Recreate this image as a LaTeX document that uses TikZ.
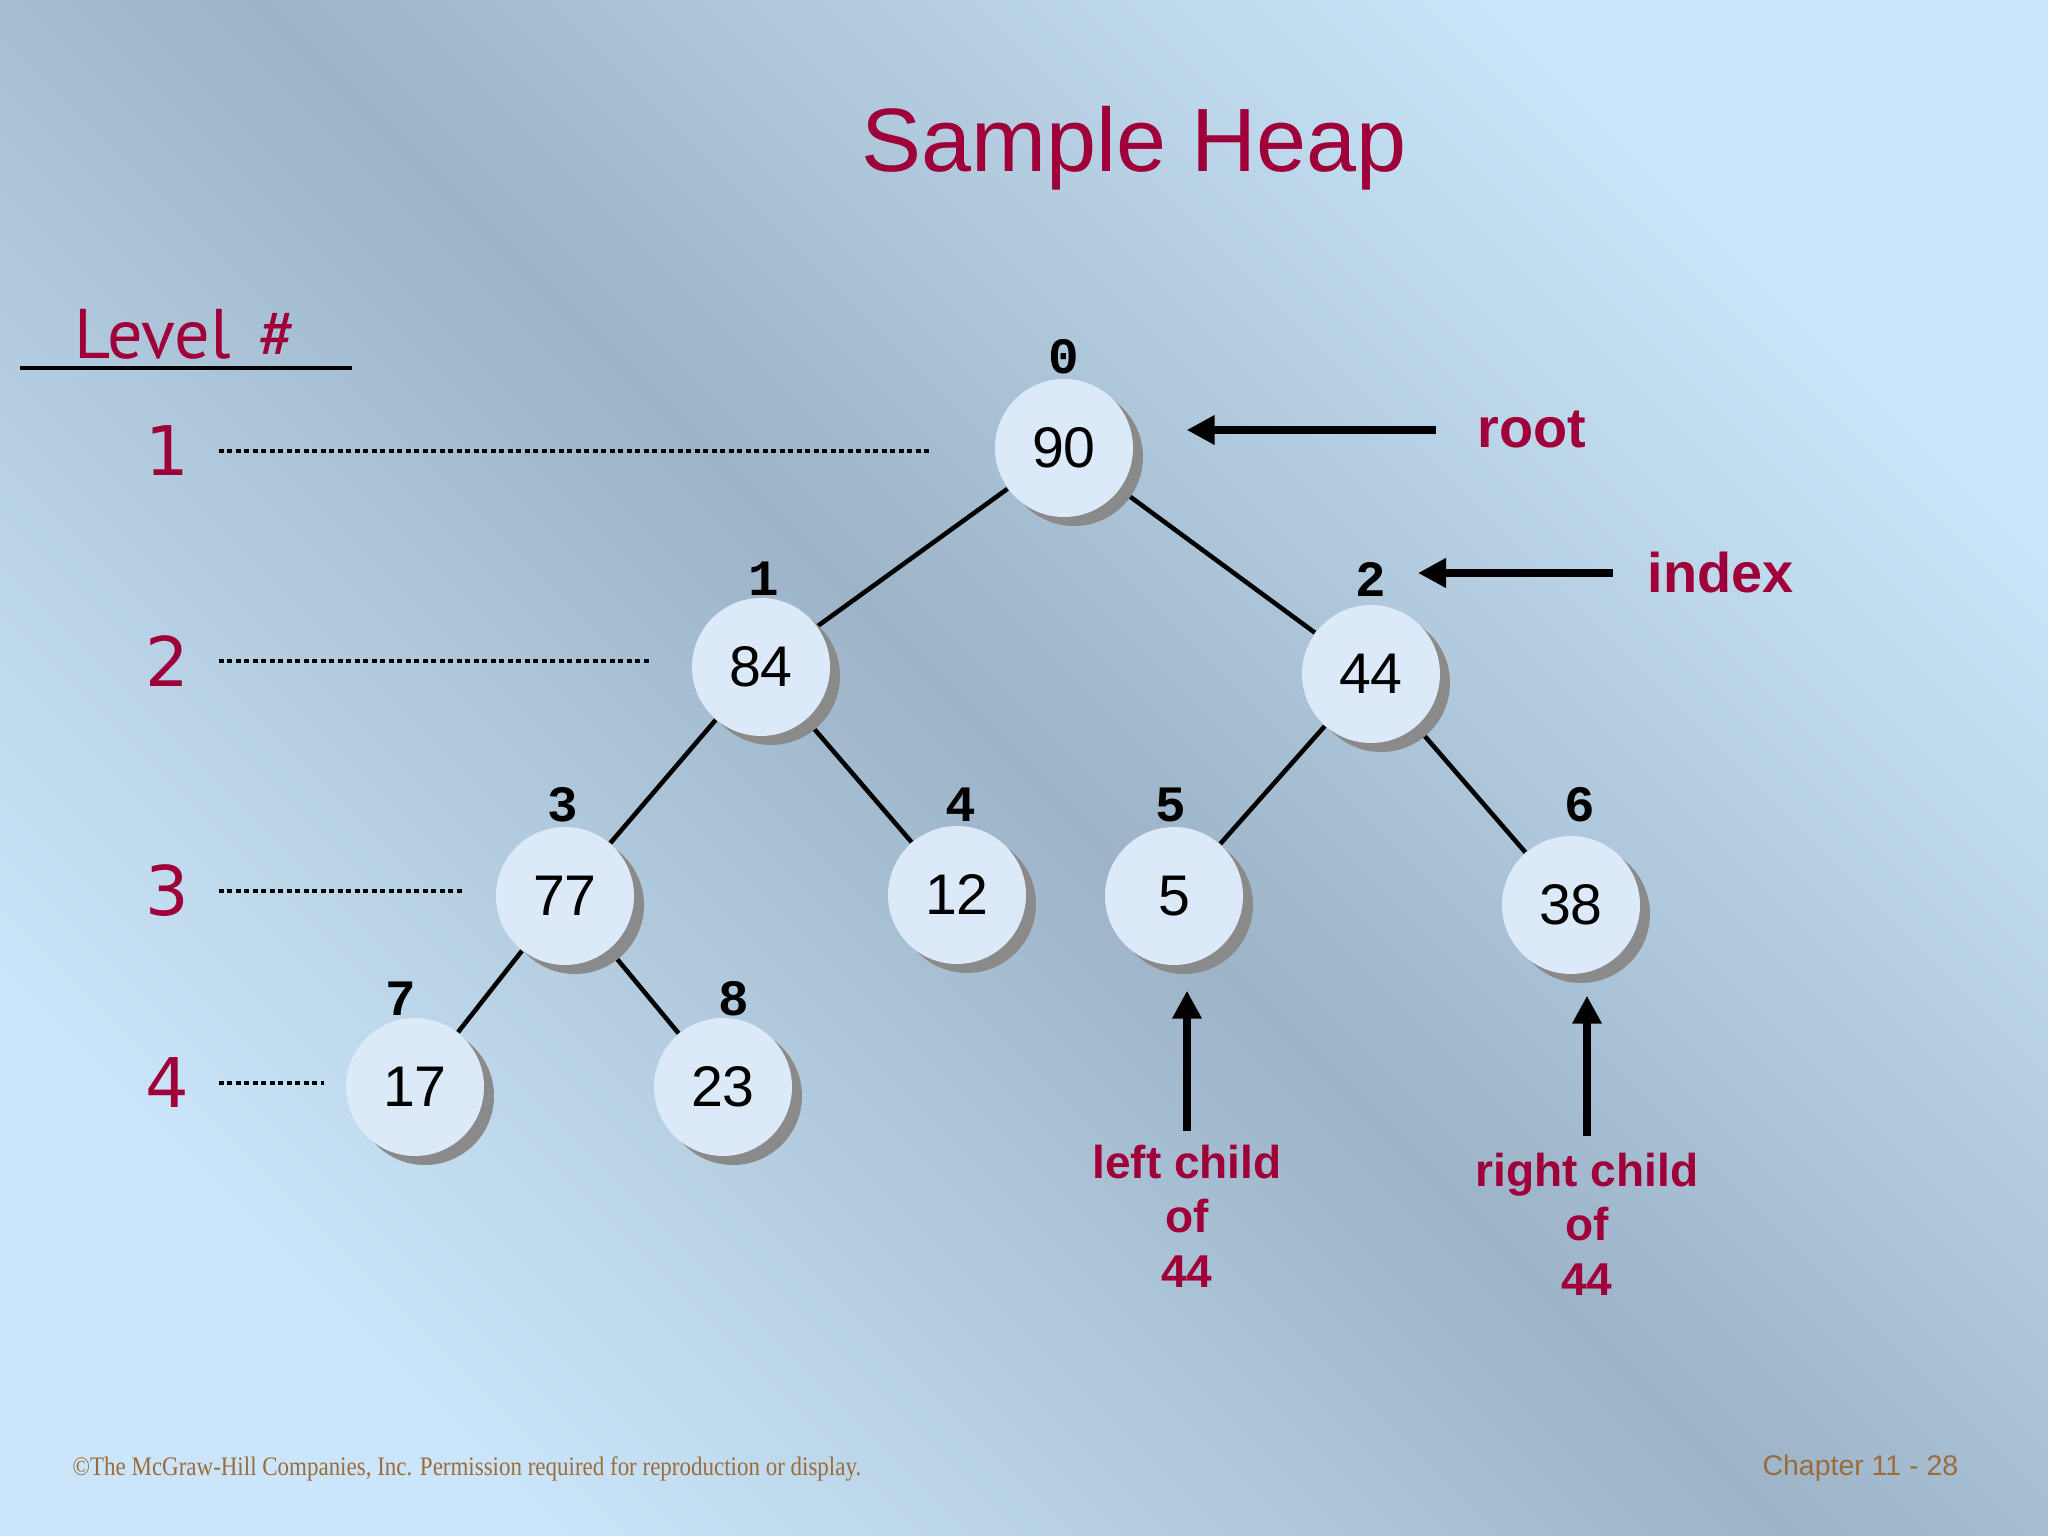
\documentclass[tikz,border=0pt]{standalone}
\usepackage{fontspec}
\setmainfont{Liberation Sans}
\newfontfamily\idxfont{Liberation Mono}
\newfontfamily\lvlfont{PT Sans}
\newfontfamily\digfont{DejaVu Sans}
\newfontfamily\footfont{Liberation Serif}[FakeStretch=0.86]
\usetikzlibrary{arrows.meta, positioning, calc, shadows, backgrounds}
\definecolor{hcrimson}{HTML}{A0003A}
\definecolor{hnode}{HTML}{DCE9F8}
\definecolor{hshadow}{HTML}{8A8A8A}
\definecolor{hbglight}{HTML}{CBE6FA}
\definecolor{hbgdark}{HTML}{9DB4C8}
\definecolor{hbrown}{HTML}{9C6B3A}
\tikzset{
  heapnode/.style={circle, fill=hnode, minimum size=1.38cm, inner sep=0pt, font=\fontsize{16.3}{18}\selectfont,
                   drop shadow={shadow xshift=0.1cm, shadow yshift=-0.09cm, fill=hshadow, opacity=1}},
  idx/.style={font=\idxfont\bfseries\fontsize{14.5}{16}\selectfont, inner sep=0pt},
  edge/.style={draw=black, line width=1.3pt},
  lvl/.style={font=\digfont\fontsize{19.5}{22}\selectfont, text=hcrimson, inner sep=0pt},
  dotline/.style={line width=1.3pt, dash pattern=on 0.05cm off 0.035cm},
  pointer/.style={-{Triangle[length=0.28cm, width=0.28cm]}, line width=2.3pt},
  note/.style={font=\bfseries\fontsize{15.9}{19}\selectfont, text=hcrimson, inner sep=0pt},
  childnote/.style={note, font=\bfseries\fontsize{13.1}{15.6}\selectfont, align=center, anchor=north},
}
\begin{document}
\begin{tikzpicture}
  \begin{scope}[on background layer]
    \shade[top color=hbglight, bottom color=hbglight, middle color=hbgdark, shading angle=-45] (0,0) rectangle (20.48,-15.36);
  \end{scope}
  \useasboundingbox (0,0) rectangle (20.48,-15.36);

  \node[font=\fontsize{25.6}{30}\selectfont, text=hcrimson, anchor=base] (title) at (11.34,-1.72) {Sample Heap};

  % level column
  \node[font=\lvlfont\fontsize{20}{24}\selectfont, text=hcrimson, anchor=base] (lvlhead) at (1.86,-3.59) {Level\hspace{0.28cm}\#};
  \draw[line width=1.15pt] (0.20,-3.68) -- (3.52,-3.68);
  \foreach \i/\y/\e in {1/4.51/9.30, 2/6.61/6.49, 3/8.91/4.62, 4/10.83/3.24} {
    \node[lvl] (lv\i) at (1.67,-\y) {\i};
    \coordinate (le\i) at (\e,-\y);
    \draw[dotline, shorten <=0.29cm] (lv\i) -- (le\i);
  }

  % heap
  \foreach \n/\v/\x/\y in {0/90/10.64/4.48, 1/84/7.61/6.67, 2/44/13.71/6.74, 3/77/5.65/8.96, 4/12/9.57/8.95,
                           5/5/11.74/8.96, 6/38/15.71/9.05, 7/17/4.15/10.87, 8/23/7.23/10.87}
    \node[heapnode] (n\n) at (\x,-\y) {\v};
  \foreach \n/\x/\y in {0/10.64/3.57, 1/7.64/5.79, 2/13.71/5.79, 3/5.63/8.05, 4/9.61/8.05,
                        5/11.71/8.05, 6/15.80/8.05, 7/4.01/9.99, 8/7.34/9.99}
    \node[idx] (i\n) at (\x,-\y) {\n};
  \begin{scope}[on background layer]
    \foreach \a/\b in {0/1, 0/2, 1/3, 1/4, 2/5, 2/6, 3/7, 3/8}
      \draw[edge] (n\a) -- (n\b);
  \end{scope}

  % pointers
  \node[note, anchor=west] (root) at (14.77,-4.30) {root};
  \draw[pointer, shorten <=0.41cm, shorten >=0.53cm] (root.west) -- (root.west -| n0.east);
  \node[note, anchor=west] (index) at (16.47,-5.73) {index};
  \draw[pointer, shorten <=0.34cm, shorten >=0.31cm] (index.west) -- (index.west -| i2.east);
  \node[childnote] (lc) at (11.87,-11.44) {left child\\of\\44};
  \draw[pointer, shorten <=0.13cm, shorten >=0.25cm] (lc.north) -- (lc.north |- n5.south);
  \node[childnote] (rc) at (15.87,-11.52) {right child\\of\\44};
  \draw[pointer, shorten <=0.16cm, shorten >=0.21cm] (rc.north) -- (rc.north |- n6.south);

  % footer
  \node[font=\footfont\fontsize{7.6}{9}\selectfont, text=hbrown, anchor=west, inner sep=0pt] (copy) at (0.72,-14.69)
    {©The McGraw-Hill Companies, Inc. Permission required for reproduction or display.};
  \node[font=\fontsize{8.1}{10}\selectfont, text=hbrown, anchor=east, inner sep=0pt] (chap) at (19.59,-14.68) {Chapter 11 - 28};
\end{tikzpicture}
\end{document}
